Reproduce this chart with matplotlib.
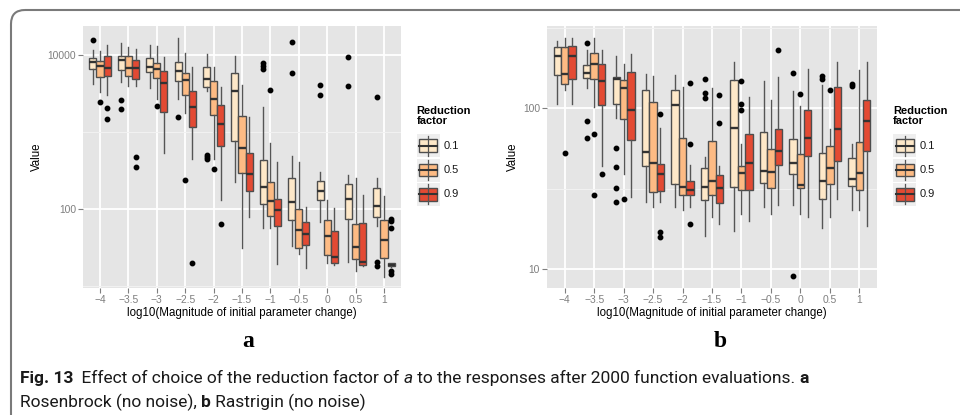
import numpy as np
import matplotlib
matplotlib.use("Agg")
import matplotlib.pyplot as plt
from matplotlib.patches import FancyBboxPatch, Rectangle
from matplotlib.ticker import FixedLocator, FixedFormatter, NullFormatter

plt.rcParams['font.family'] = ['Liberation Sans', 'DejaVu Sans']

x_labels = ["\u22124", "\u22123.5", "\u22123", "\u22122.5", "\u22122", "\u22121.5",
            "\u22121", "\u22120.5", "0", "0.5", "1"]
factors = ["0.1", "0.5", "0.9"]
colors = ["#FEE8C8", "#FDBB84", "#E34A33"]

# Rosenbrock (no noise): box statistics per reduction factor
ros_lo_01 = [4130, 4380, 3730, 2660, 3410, 226, 57.3, 33.1, 68.6, 20.4, 60.3]
ros_q1_01 = [6590, 6270, 5900, 4510, 3810, 754, 118, 71.3, 133, 74.1, 79.6]
ros_med_01 = [7940, 8450, 6850, 6210, 4790, 3410, 193, 123, 173, 136, 110]
ros_q3_01 = [9150, 9700, 8960, 8120, 6850, 5850, 428, 249, 233, 213, 189]
ros_hi_01 = [11500, 14300, 13200, 16440, 10200, 9610, 2070, 481, 299, 276, 249]
ros_out_01 = [[15600], [2590, 2000], [], [1560], [495, 468, 441], [],
              [7730, 7130, 6590], [14440, 5850], [4010, 3000], [9240, 3960],
              [2800, 20.8, 18.4]]

ros_lo_05 = [3250, 3930, 2660, 1770, 441, 30.9, 57.3, 25.9, 19.8, 15.9, 13.3]
ros_q1_05 = [5190, 5230, 4990, 3000, 1670, 290, 82, 30.9, 25.1, 22.5, 23.4]
ros_med_05 = [7130, 6710, 6520, 4740, 2640, 611, 126, 53.5, 44.7, 32.2, 39.6]
ros_q3_05 = [8280, 9610, 7730, 5730, 4600, 1600, 226, 99, 71.9, 63.2, 71.3]
ros_hi_05 = [11160, 12570, 12820, 10500, 6920, 4050, 725, 403, 133, 249, 147]
ros_out_05 = [[2460], [], [2180], [240], [330], [], [3480], [], [], [], []]

ros_lo_09 = [3000, 3960, 537, 441, 133, 79.6, 19.4, 17.4, 18.6, 18.2, 18.0]
ros_q1_09 = [5350, 4790, 1810, 1140, 655, 171, 60.8, 34.5, 19.8, 19.1, 18.1]
ros_med_09 = [6800, 6710, 4260, 2070, 1260, 281, 97, 47, 23.9, 20.8, 18.8]
ros_q3_09 = [9700, 8530, 6140, 3410, 2250, 526, 137, 67.1, 51.4, 65.2, 19.8]
ros_hi_09 = [13300, 11730, 9240, 6850, 3780, 1540, 410, 105, 102, 152, 19.9]
ros_out_09 = [[2020, 1450], [468, 347], [], [19.8], [64.6], [], [], [], [], [],
              [75, 70.6, 57.3, 15.7, 14.5]]

# Rastrigin (no noise)
ras_lo_01 = [106, 133, 86.6, 26, 24.1, 16, 17.1, 24.1, 25, 17.9, 23.1]
ras_q1_01 = [162, 154, 107, 43.4, 33.6, 26.7, 32.5, 34.1, 38.8, 27.4, 32.7]
ras_med_01 = [210, 166, 152, 53.4, 104, 32.5, 75.8, 40.9, 45.9, 35.3, 36.5]
ras_q3_01 = [239, 185, 157, 130, 130, 42.4, 149, 71.3, 64.1, 53, 48.9]
ras_hi_01 = [264, 232, 211, 163, 160, 49.8, 194, 148, 128, 140, 59.7]
ras_out_01 = [[], [253, 83.4, 65.3], [56.6, 42.8, 31.8, 26], [], [],
              [151, 124, 115], [], [], [165, 9.0], [158, 151], [142, 138]]

ras_lo_05 = [130, 102, 39.2, 24.2, 23.1, 21, 22.1, 22, 22, 21, 23.1]
ras_q1_05 = [142, 151, 85.4, 30.1, 28.8, 28.8, 30.8, 31.9, 31.8, 33.8, 30.9]
ras_med_05 = [164, 188, 134, 45.5, 32.2, 35.3, 39.4, 39.8, 33.3, 42.6, 39.6]
ras_q3_05 = [239, 220, 149, 110, 65.6, 62.1, 43.6, 55.6, 51.8, 58.3, 61.7]
ras_hi_05 = [273, 273, 188, 158, 135, 133, 59.7, 112, 103, 74, 173]
ras_out_05 = [[53], [68.9, 29], [27.2], [], [], [], [147, 107, 97.2], [],
              [122], [130], []]

ras_lo_09 = [106, 43.8, 27.9, 26.2, 24.1, 19, 20, 25, 21, 27.4, 18.6]
ras_q1_09 = [151, 104, 63.2, 30.5, 28.8, 25.6, 31, 44.2, 50.2, 47.2, 54]
ras_med_09 = [212, 148, 98, 39, 30.8, 31.8, 45.3, 54, 65.6, 74, 83]
ras_q3_09 = [245, 188, 169, 44.8, 35, 38.3, 68.9, 74, 97.2, 136, 113]
ras_hi_09 = [273, 229, 218, 75.5, 44.4, 43.8, 118, 156, 175, 194, 193]
ras_out_09 = [[], [39], [], [91.8, 17, 15.9], [143, 59.7, 19], [121, 80.7],
              [], [232], [], [], []]

ros = [
    (ros_lo_01, ros_q1_01, ros_med_01, ros_q3_01, ros_hi_01, ros_out_01),
    (ros_lo_05, ros_q1_05, ros_med_05, ros_q3_05, ros_hi_05, ros_out_05),
    (ros_lo_09, ros_q1_09, ros_med_09, ros_q3_09, ros_hi_09, ros_out_09),
]
ras = [
    (ras_lo_01, ras_q1_01, ras_med_01, ras_q3_01, ras_hi_01, ras_out_01),
    (ras_lo_05, ras_q1_05, ras_med_05, ras_q3_05, ras_hi_05, ras_out_05),
    (ras_lo_09, ras_q1_09, ras_med_09, ras_q3_09, ras_hi_09, ras_out_09),
]

W, H = 960, 415
fig = plt.figure(figsize=(W / 100, H / 100), dpi=100)


def px_rect(left, top, right, bottom):
    return [left / W, 1 - bottom / H, (right - left) / W, (bottom - top) / H]


def draw_panel(ax, series, ylim, major, minor):
    ax.set_facecolor("#E5E5E5")
    pos = np.arange(1, len(x_labels) + 1)
    for k, (lo, q1, med, q3, hi, out) in enumerate(series):
        stats = [dict(whislo=lo[i], q1=q1[i], med=med[i], q3=q3[i],
                      whishi=hi[i], fliers=out[i]) for i in range(len(lo))]
        ax.bxp(stats, positions=pos + (k - 1) * 0.25, widths=0.25,
               patch_artist=True, showcaps=False, manage_ticks=False,
               boxprops=dict(facecolor=colors[k], edgecolor="#4d4d4d", linewidth=1.0),
               medianprops=dict(color="#333333", linewidth=1.7),
               whiskerprops=dict(color="#555555", linewidth=1.0),
               flierprops=dict(marker="o", markerfacecolor="black",
                               markeredgecolor="black", markersize=3.2,
                               linestyle="none"))
    ax.set_yscale("log")
    ax.set_ylim(*ylim)
    ax.set_xlim(0.4, len(x_labels) + 0.6)
    ax.set_xticks(pos)
    ax.set_xticklabels(x_labels)
    ax.yaxis.set_major_locator(FixedLocator(major))
    ax.yaxis.set_major_formatter(FixedFormatter([str(v) for v in major]))
    ax.yaxis.set_minor_locator(FixedLocator(minor))
    ax.yaxis.set_minor_formatter(NullFormatter())
    ax.set_axisbelow(True)
    ax.grid(True, which="major", color="white", linewidth=1.3)
    ax.yaxis.grid(True, which="minor", color="#F2F2F2", linewidth=0.7)
    for s in ax.spines.values():
        s.set_visible(False)
    ax.tick_params(which="major", length=3.5, width=0.8, color="#7F7F7F",
                   labelcolor="#7F7F7F", labelsize=7.4, pad=1.5)
    ax.tick_params(which="minor", length=0)
    ax.set_xlabel("log10(Magnitude of initial parameter change)", fontsize=8.3,
                  labelpad=1.5)
    ax.set_ylabel("Value", fontsize=8.3, labelpad=3)


ax_a = fig.add_axes(px_rect(83, 26, 401, 288))
draw_panel(ax_a, ros, (9.5, 23500), [100, 10000], [10, 1000])

ax_b = fig.add_axes(px_rect(547, 26, 877, 288))
draw_panel(ax_b, ras, (7.6, 325), [10, 100], [31.6, 316])

# overlay in pixel coordinates for frame, legends, labels and caption
ov = fig.add_axes([0, 0, 1, 1])
ov.set_xlim(0, W)
ov.set_ylim(H, 0)
ov.axis("off")

ov.add_patch(FancyBboxPatch((11, 10), 1000, 500,
                            boxstyle="round,pad=0,rounding_size=14",
                            fc="none", ec="#7a7a7a", lw=1.5))


def draw_legend(x0):
    ov.text(x0, 106, "Reduction\nfactor", fontsize=8, fontweight="bold",
            ha="left", va="top", linespacing=0.95)
    for k, lab in enumerate(factors):
        cy = 145.7 + k * 24.3
        ov.add_patch(Rectangle((x0, cy - 11.5), 23, 23, fc="#EEEEEE", ec="none"))
        ov.plot([x0 + 11.5, x0 + 11.5], [cy - 10, cy + 10], color="#555555", lw=0.9)
        ov.add_patch(Rectangle((x0 + 2.5, cy - 6.3), 18, 12.6, fc=colors[k],
                               ec="#4d4d4d", lw=1.0))
        ov.plot([x0 + 2.5, x0 + 20.5], [cy, cy], color="#333333", lw=1.5)
        ov.text(x0 + 27, cy, lab, fontsize=8, color="#1a1a1a", ha="left",
                va="center")


draw_legend(416.5)
draw_legend(893)

ov.text(248, 347, "a", fontsize=17, fontweight="bold", family="Liberation Serif",
        ha="center", va="baseline")
ov.text(720, 347, "b", fontsize=17, fontweight="bold", family="Liberation Serif",
        ha="center", va="baseline")

cap_font = ["Roboto", "Liberation Sans", "DejaVu Sans"]
cap_size = 12.5
cap_col = "#1a1a1a"
renderer = fig.canvas.get_renderer()


def caption_line(x, y, parts):
    # pieces share one baseline; each starts where the previous one ends
    for txt, weight, style in parts:
        t = ov.text(x, y, txt, fontsize=cap_size, fontweight=weight,
                    fontstyle=style, family=cap_font, color=cap_col,
                    ha="left", va="baseline")
        bb = t.get_window_extent(renderer)
        x = ov.transData.inverted().transform((bb.x1, bb.y0))[0]


caption_line(20, 383, [("Fig. 13", "bold", "normal"),
                       ("  Effect of choice of the reduction factor of ", "normal", "normal"),
                       ("a", "normal", "italic"),
                       (" to the responses after 2000 function evaluations. ", "normal", "normal"),
                       ("a", "bold", "normal")])
caption_line(20, 407, [("Rosenbrock (no noise), ", "normal", "normal"),
                       ("b", "bold", "normal"),
                       (" Rastrigin (no noise)", "normal", "normal")])

fig.savefig("out.png", dpi=100)
